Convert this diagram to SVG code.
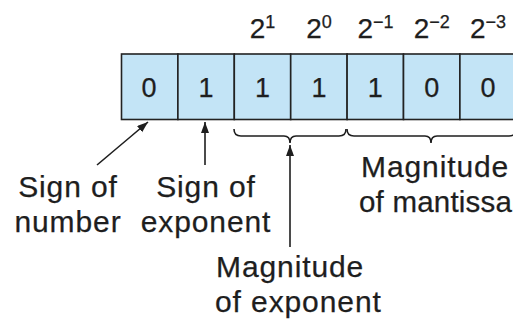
<svg xmlns="http://www.w3.org/2000/svg" width="513" height="321" viewBox="0 0 513 321">
<style>
text{font-family:"Liberation Sans",Arial,sans-serif;fill:#1e1e1e;stroke:#1e1e1e;stroke-width:0.25}
.lbl{font-size:30px;letter-spacing:0.9px}
.dig{font-size:27px;text-anchor:middle}
.exp{font-size:28px;text-anchor:middle}
.sup{font-size:18px}
.cell{fill:#c3e4f6;stroke:#222;stroke-width:1.6}
.con{fill:none;stroke:#1e1e1e;stroke-width:1.6}
</style>
<defs>
<marker id="ah" markerUnits="userSpaceOnUse" markerWidth="12" markerHeight="10" refX="11" refY="4" orient="auto">
<path d="M0,0 L11,4 L0,8 Z" fill="#1e1e1e"/>
</marker>
</defs>
<g id="weights">
<text class="exp" x="262.5" y="38">2<tspan class="sup" dy="-10">1</tspan></text>
<text class="exp" x="319" y="38">2<tspan class="sup" dy="-10">0</tspan></text>
<text class="exp" x="375.5" y="38">2<tspan class="sup" dy="-10">−1</tspan></text>
<text class="exp" x="431.7" y="38">2<tspan class="sup" dy="-10">−2</tspan></text>
<text class="exp" x="488" y="38">2<tspan class="sup" dy="-10">−3</tspan></text>
</g>
<g id="register">
<rect class="cell" x="121.5" y="54" width="56.4" height="65.5"/>
<rect class="cell" x="177.9" y="54" width="56.4" height="65.5"/>
<rect class="cell" x="234.3" y="54" width="56.4" height="65.5"/>
<rect class="cell" x="290.7" y="54" width="56.4" height="65.5"/>
<rect class="cell" x="347.1" y="54" width="56.4" height="65.5"/>
<rect class="cell" x="403.5" y="54" width="56.4" height="65.5"/>
<rect class="cell" x="459.9" y="54" width="60" height="65.5"/>
<text class="dig" x="149" y="97">0</text>
<text class="dig" x="206" y="97">1</text>
<text class="dig" x="262.5" y="97">1</text>
<text class="dig" x="319" y="97">1</text>
<text class="dig" x="375.3" y="97">1</text>
<text class="dig" x="431.7" y="97">0</text>
<text class="dig" x="488" y="97">0</text>
</g>
<g id="connectors">
<line class="con" x1="97" y1="165" x2="148" y2="122" marker-end="url(#ah)"/>
<line class="con" x1="205" y1="165" x2="205" y2="122" marker-end="url(#ah)"/>
<line class="con" x1="290" y1="247" x2="290" y2="145" marker-end="url(#ah)"/>
<path class="con" d="M234,129 Q234,136 241,136 L284,136 Q290,136 290,143 Q290,136 296,136 L339,136 Q346,136 346,129"/>
<path class="con" d="M347,129 Q347,136 354,136 L425,136 Q431,136 431,143 Q431,136 437,136 L509,136 Q516,136 516,129"/>
</g>
<g id="sign-of-number">
<text class="lbl" x="68" y="197" text-anchor="middle">Sign of</text>
<text class="lbl" x="68" y="232" text-anchor="middle">number</text>
</g>
<g id="sign-of-exponent">
<text class="lbl" x="206" y="197" text-anchor="middle">Sign of</text>
<text class="lbl" x="206" y="232" text-anchor="middle">exponent</text>
</g>
<g id="magnitude-of-mantissa">
<text class="lbl" x="361" y="177">Magnitude</text>
<text class="lbl" x="359" y="212" style="font-size:29.5px;letter-spacing:0.2px">of mantissa</text>
</g>
<g id="magnitude-of-exponent">
<text class="lbl" x="216" y="277">Magnitude</text>
<text class="lbl" x="215" y="312">of exponent</text>
</g>
</svg>
